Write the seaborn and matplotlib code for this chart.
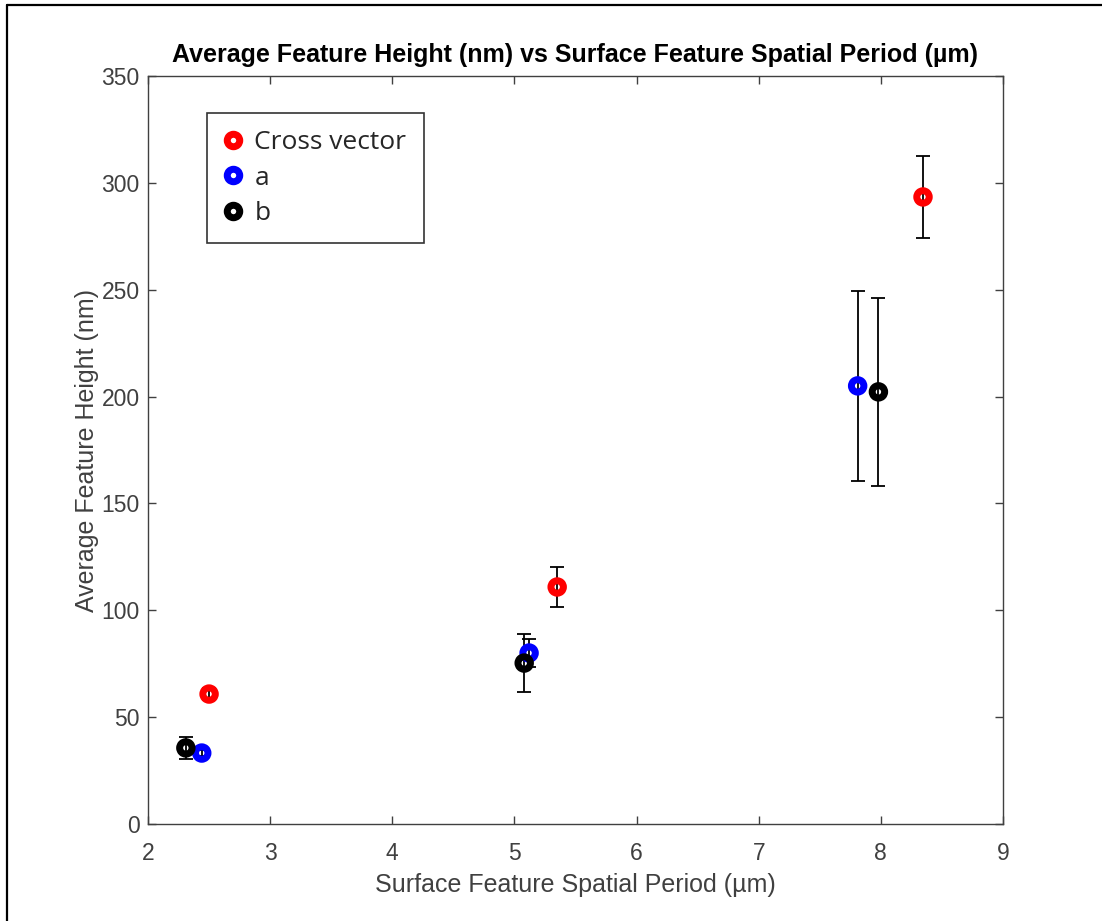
import matplotlib
matplotlib.use("Agg")
import matplotlib.pyplot as plt
import seaborn as sns
import pandas as pd
from matplotlib.lines import Line2D

# ---- data ----
series_names = ["Cross vector", "a", "b"]
series_colors = ["#ff0000", "#0000ff", "#000000"]

cross_x = [2.50, 5.35, 8.345]
cross_y = [60.8, 110.9, 293.4]
cross_err = [2.9, 9.5, 19.0]

a_x = [2.44, 5.12, 7.81]
a_y = [33.2, 80.0, 205.0]
a_err = [1.5, 6.5, 44.5]

b_x = [2.31, 5.08, 7.98]
b_y = [35.6, 75.3, 202.2]
b_err = [5.0, 13.5, 44.0]

x_ticks = [2, 3, 4, 5, 6, 7, 8, 9]
y_ticks = [0, 50, 100, 150, 200, 250, 300, 350]

title = "Average Feature Height (nm) vs Surface Feature Spatial Period (µm)"
xlabel = "Surface Feature Spatial Period (µm)"
ylabel = "Average Feature Height (nm)"

sns.set_theme(style="white")
plt.rcParams['font.family'] = ['Liberation Sans', 'DejaVu Sans']

frames = []
for name, xs, ys, es in [("Cross vector", cross_x, cross_y, cross_err),
                         ("a", a_x, a_y, a_err),
                         ("b", b_x, b_y, b_err)]:
    frames.append(pd.DataFrame({"series": name, "x": xs, "y": ys, "err": es}))
df = pd.concat(frames, ignore_index=True)

fig = plt.figure(figsize=(11.02, 9.21), dpi=100)
ax = fig.add_axes([148/1102, 1 - 824/921, (1003 - 148)/1102, (824 - 76)/921])

for name, color in zip(series_names, series_colors):
    sub = df[df["series"] == name]
    ax.errorbar(sub["x"], sub["y"], yerr=sub["err"], fmt="none",
                ecolor="black", elinewidth=1.3, capsize=5, capthick=1.3, zorder=2)
    sns.scatterplot(data=sub, x="x", y="y", ax=ax, marker="o", s=81,
                    color=color, edgecolor=color, linewidth=5,
                    zorder=3, legend=False)
    ax.collections[-1].set_facecolor("none")

ax.set_xlim(2, 9)
ax.set_ylim(0, 350)
ax.set_xticks(x_ticks)
ax.set_yticks(y_ticks)
ax.tick_params(direction="in", length=6, width=1, colors="#404040",
               labelcolor="#404040", labelsize=16.5, top=True, right=True,
               bottom=True, left=True)
ax.tick_params(axis="x", pad=13)
ax.tick_params(axis="y", pad=6)
for sp in ax.spines.values():
    sp.set_color("#404040")
    sp.set_linewidth(1.0)
    sp.set_visible(True)

ax.set_xlabel(xlabel, fontsize=18, color="#404040", labelpad=6)
ax.set_ylabel(ylabel, fontsize=18, color="#404040", labelpad=2)
ax.set_title(title, fontsize=18, fontweight="bold", color="black", pad=10)

handles = [Line2D([], [], linestyle="none", marker="o", markersize=9,
                  markerfacecolor="white", markeredgecolor=c, markeredgewidth=5)
           for c in series_colors]
leg = ax.legend(handles, series_names, loc="upper left",
                bbox_to_anchor=((207 - 148)/855, (824 - 113)/748),
                frameon=True, fancybox=False, edgecolor="black",
                prop={"family": ["Open Sans", "DejaVu Sans"], "size": 19},
                handlelength=0.7, handletextpad=0.45, labelspacing=0.4,
                borderpad=0.65, borderaxespad=0)
leg.get_frame().set_linewidth(1.2)

# outer image border (top and left)
fig.add_artist(Line2D([6.5/1102, 1.0], [1 - 5.5/921, 1 - 5.5/921],
                      transform=fig.transFigure, color="black", linewidth=1.6))
fig.add_artist(Line2D([6.5/1102, 6.5/1102], [0.0, 1 - 5.5/921],
                      transform=fig.transFigure, color="black", linewidth=1.6))

fig.savefig("out.png", dpi=100, facecolor="white")
